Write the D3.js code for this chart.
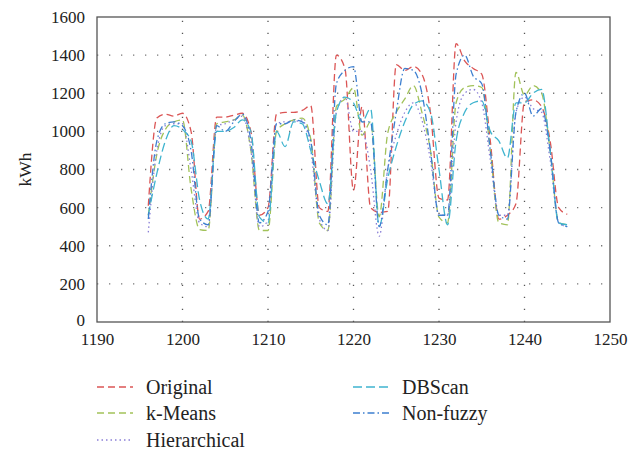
<!DOCTYPE html>
<html>
<head>
<meta charset="utf-8">
<script src="https://cdn.jsdelivr.net/npm/d3@7"></script>
<style>
  body { margin: 0; background: #fff; }
  text { font-family: "Liberation Serif", "DejaVu Serif", serif; fill: #222; }
</style>
</head>
<body>
<svg id="chart" width="631" height="451"></svg>
<script>
  // days on the x axis
  var days = d3.range(1196, 1246);

  var original = [610,1070,1090,1080,1095,1000,540,580,
    1075,1075,1085,1095,1000,560,600,
    1090,1100,1100,1110,1135,600,580,
    1400,1330,690,1130,600,575,580,
    1350,1320,1340,1300,1100,650,640,
    1460,1370,1330,1300,950,540,560,
    620,1155,1165,1130,950,600,565];
  var kMeans = [560,880,1010,1050,1060,700,485,480,
    1040,1050,1060,1085,900,480,480,
    1000,1040,1060,1070,960,520,480,
    1130,1170,1228,980,1050,552,990,
    1100,1170,1240,1100,900,550,520,
    1150,1230,1240,1230,900,520,510,
    1310,1190,1240,1200,900,520,510];
  var hierarchical = [470,900,1030,1040,1040,800,520,500,
    1030,1040,1060,1080,900,500,530,
    1040,1050,1050,1060,900,540,480,
    1100,1180,1000,1000,800,450,800,
    980,1100,1150,1060,850,560,560,
    1050,1200,1220,1150,850,560,560,
    1100,1180,1120,1100,850,520,500];
  var dbscan = [560,780,950,1030,1010,950,640,540,
    1000,1000,1020,1060,1000,550,520,
    1000,920,1050,1040,900,740,620,
    1100,1180,1150,1050,1120,500,750,
    920,1050,1140,1160,1100,800,510,
    950,1100,1150,1160,1000,950,860,
    1150,1150,1200,1220,900,520,510];
  var nonFuzzy = [540,950,1040,1050,1030,900,540,510,
    1030,1000,1050,1090,950,520,580,
    1040,1040,1060,1050,950,560,510,
    1250,1320,1340,1050,1050,500,800,
    1100,1330,1320,1200,900,560,560,
    1300,1400,1290,1250,900,560,540,
    1100,1200,1080,1120,900,520,500];

  var xTicks = [1190, 1200, 1210, 1220, 1230, 1240, 1250];
  var yTicks = [0, 200, 400, 600, 800, 1000, 1200, 1400, 1600];

  var series = [
    { name: "Original", values: original, color: "#db5555", dash: "7,4" },
    { name: "k-Means", values: kMeans, color: "#a2c25a", dash: "7,4" },
    { name: "Hierarchical", values: hierarchical, color: "#8a7fd6", dash: "1.5,3" },
    { name: "DBScan", values: dbscan, color: "#3fb4cf", dash: "9,4" },
    { name: "Non-fuzzy", values: nonFuzzy, color: "#3d7fd0", dash: "7,3,1.5,3" }
  ];

  var svg = d3.select("#chart");
  var plotL = 97, plotR = 610, plotT = 17, plotB = 322;

  var x = d3.scaleLinear().domain([1190, 1250]).range([plotL, plotR]);
  var y = d3.scaleLinear().domain([0, 1600]).range([plotB, plotT]);

  // grid
  svg.append("g").selectAll("line")
    .data(yTicks.slice(1, -1))
    .enter().append("line")
    .attr("x1", plotL).attr("x2", plotR)
    .attr("y1", d => y(d)).attr("y2", d => y(d))
    .attr("stroke", "#777").attr("stroke-width", 1.3)
    .attr("stroke-dasharray", "1.3,10.7");

  svg.append("g").selectAll("line")
    .data(xTicks.slice(1, -1))
    .enter().append("line")
    .attr("x1", d => x(d)).attr("x2", d => x(d))
    .attr("y1", plotB).attr("y2", plotT)
    .attr("stroke", "#555").attr("stroke-width", 1.3)
    .attr("stroke-dasharray", "1.3,10.7");

  // frame
  svg.append("rect")
    .attr("x", plotL).attr("y", plotT)
    .attr("width", plotR - plotL).attr("height", plotB - plotT)
    .attr("fill", "none").attr("stroke", "#555").attr("stroke-width", 1.3);

  // axes
  var xAxis = svg.append("g")
    .attr("transform", "translate(0," + plotB + ")")
    .call(d3.axisBottom(x).tickValues(xTicks).tickSize(0).tickPadding(11).tickFormat(d3.format("d")));
  xAxis.select(".domain").remove();
  xAxis.selectAll("text").style("font-size", "17px").style("font-family", "Liberation Serif, serif").attr("fill", "#222");

  var yAxis = svg.append("g")
    .attr("transform", "translate(" + plotL + ",0)")
    .call(d3.axisLeft(y).tickValues(yTicks).tickSize(0).tickPadding(12).tickFormat(d3.format("d")));
  yAxis.select(".domain").remove();
  yAxis.selectAll("text").style("font-size", "17px").style("font-family", "Liberation Serif, serif").attr("fill", "#222");
  // nudge the "0" label up a little so it clears the x labels
  yAxis.selectAll("text").filter(d => d === 0).attr("dy", "0.2em");

  svg.append("text")
    .attr("transform", "translate(31," + ((plotT + plotB) / 2) + ") rotate(-90)")
    .attr("text-anchor", "middle")
    .style("font-size", "17.5px")
    .text("kWh");

  // lines
  var line = d3.line()
    .x((d, i) => x(days[i]))
    .y(d => y(d))
    .curve(d3.curveMonotoneX);

  svg.append("g").selectAll("path")
    .data(series)
    .enter().append("path")
    .attr("d", d => line(d.values))
    .attr("fill", "none")
    .attr("stroke", d => d.color)
    .attr("stroke-width", 1.3)
    .attr("stroke-dasharray", d => d.dash);

  // legend
  var legendPos = [[97, 387], [97, 413], [97, 440], [353, 387], [353, 413]];
  var legend = svg.append("g").selectAll("g")
    .data(series)
    .enter().append("g")
    .attr("transform", (d, i) => "translate(" + legendPos[i][0] + "," + legendPos[i][1] + ")");

  legend.append("line")
    .attr("x1", 0).attr("x2", 36)
    .attr("stroke", d => d.color)
    .attr("stroke-width", 1.3)
    .attr("stroke-dasharray", d => d.dash);

  legend.append("text")
    .attr("x", 49).attr("dy", "0.35em")
    .style("font-size", "20px")
    .text(d => d.name);
</script>
</body>
</html>
